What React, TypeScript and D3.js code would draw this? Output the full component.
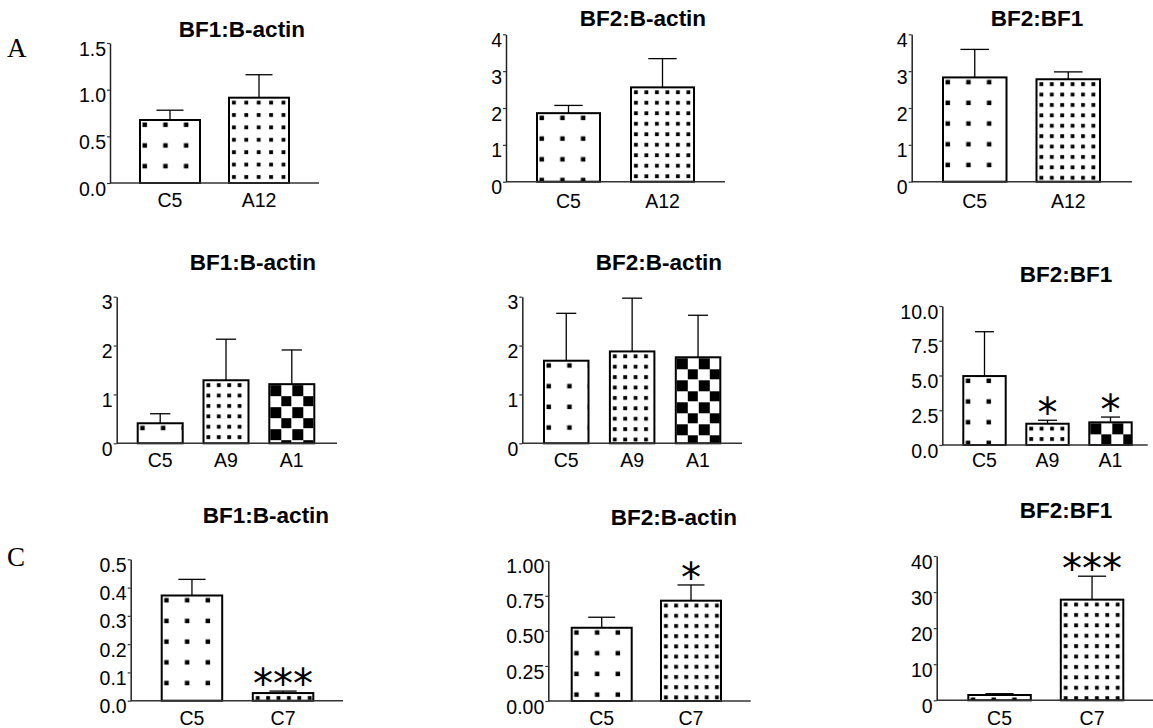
import React, { useEffect, useRef } from 'react';
import * as d3 from 'd3';

// categories
const catsA = ["C5", "A12"];
const catsB = ["C5", "A9", "A1"];
const catsC = ["C5", "C7"];

const titles = ["BF1:B-actin", "BF2:B-actin", "BF2:BF1"];

// means and upper error values
const a1Means = [0.675, 0.914];
const a1Upper = [0.78, 1.16];
const a2Means = [1.86, 2.56];
const a2Upper = [2.07, 3.34];
const a3Means = [2.83, 2.78];
const a3Upper = [3.59, 2.98];

const b1Means = [0.41, 1.29, 1.21];
const b1Upper = [0.605, 2.13, 1.91];
const b2Means = [1.69, 1.88, 1.76];
const b2Upper = [2.66, 2.97, 2.62];
const b3Means = [4.96, 1.53, 1.63];
const b3Upper = [8.15, 1.78, 2.01];
const b3Sig = ["", "*", "*"];

const c1Means = [0.372, 0.027];
const c1Upper = [0.429, 0.034];
const c1Sig = ["", "***"];
const c2Means = [0.522, 0.715];
const c2Upper = [0.597, 0.827];
const c2Sig = ["", "*"];
const c3Means = [1.47, 27.9];
const c3Upper = [1.83, 34.4];
const c3Sig = ["", "***"];

// y ticks
const ticksA1 = [0, 0.5, 1.0, 1.5];
const ticks4 = [0, 1, 2, 3, 4];
const ticks3 = [0, 1, 2, 3];
const ticksB3 = [0, 2.5, 5.0, 7.5, 10.0];
const ticksC1 = [0, 0.1, 0.2, 0.3, 0.4, 0.5];
const ticksC2 = [0, 0.25, 0.5, 0.75, 1.0];
const ticksC3 = [0, 10, 20, 30, 40];

const panels = [
  { cats: catsA, means: a1Means, upper: a1Upper, sig: null, title: titles[0], max: 1.5, ticks: ticksA1, fmt: ".1f" },
  { cats: catsA, means: a2Means, upper: a2Upper, sig: null, title: titles[1], max: 4, ticks: ticks4, fmt: "d" },
  { cats: catsA, means: a3Means, upper: a3Upper, sig: null, title: titles[2], max: 4, ticks: ticks4, fmt: "d" },
  { cats: catsB, means: b1Means, upper: b1Upper, sig: null, title: titles[0], max: 3, ticks: ticks3, fmt: "d" },
  { cats: catsB, means: b2Means, upper: b2Upper, sig: null, title: titles[1], max: 3, ticks: ticks3, fmt: "d" },
  { cats: catsB, means: b3Means, upper: b3Upper, sig: b3Sig, title: titles[2], max: 10, ticks: ticksB3, fmt: ".1f" },
  { cats: catsC, means: c1Means, upper: c1Upper, sig: c1Sig, title: titles[0], max: 0.5, ticks: ticksC1, fmt: ".1f" },
  { cats: catsC, means: c2Means, upper: c2Upper, sig: c2Sig, title: titles[1], max: 1, ticks: ticksC2, fmt: ".2f" },
  { cats: catsC, means: c3Means, upper: c3Upper, sig: c3Sig, title: titles[2], max: 40, ticks: ticksC3, fmt: "d" },
];

// where each panel sits on the page
const layouts = [
  { axisX: 110, y0: 183, yTop: 43, l: 140, r: 289, bw: 60, end: 319, tx: 242, ty: 36.7, ly: 207, dense: 12.4, soft: true },
  { axisX: 506, y0: 181.7, yTop: 34.3, l: 537, r: 694, bw: 63, end: 725, tx: 643, ty: 26, ly: 208, dense: 10.5, soft: false },
  { axisX: 911.7, y0: 181.7, yTop: 34.3, l: 943, r: 1100, bw: 63.5, end: 1132, tx: 1037, ty: 26, ly: 208, dense: 10.4, soft: true },
  { axisX: 116.7, y0: 443.3, yTop: 296.7, l: 137.7, r: 314.3, bw: 45, end: 337, tx: 253, ty: 270, ly: 467, dense: 10.4, soft: true },
  { axisX: 522.3, y0: 443.3, yTop: 296.7, l: 544, r: 720.3, bw: 44.5, end: 742, tx: 659, ty: 270, ly: 467, dense: 10.4, soft: false },
  { axisX: 942.3, y0: 445, yTop: 306, l: 963.3, r: 1131.7, bw: 42.4, end: 1147.7, tx: 1066, ty: 281.7, ly: 467, dense: 10.4, soft: true },
  { axisX: 130.7, y0: 700.7, yTop: 559.3, l: 161.7, r: 313.3, bw: 60.5, end: 343, tx: 266, ty: 523, ly: 725, dense: 10.4, soft: false },
  { axisX: 548.3, y0: 701, yTop: 560.7, l: 571.7, r: 721, bw: 60, end: 750.7, tx: 674, ty: 525, ly: 725, dense: 10.2, soft: false },
  { axisX: 936.7, y0: 700.3, yTop: 556, l: 968.3, r: 1123.3, bw: 62.5, end: 1153, tx: 1066, ty: 518, ly: 725, dense: 10.4, soft: false },
];

const fontSans = "'Liberation Sans', Arial, sans-serif";
const fontSerif = "'Liberation Serif', 'Times New Roman', serif";

const fillKind = (cat) => (cat === "C5" ? "sparse" : cat === "A1" ? "checker" : "dense");

const App = () => {
  const ref = useRef(null);

  useEffect(() => {
    const svg = d3.select(ref.current);
    svg.selectAll("*").remove();
    const defs = svg.append("defs");

    defs.append("filter").attr("id", "soft")
      .attr("x", "-50%").attr("y", "-50%").attr("width", "200%").attr("height", "200%")
      .append("feGaussianBlur").attr("stdDeviation", 0.7);

    svg.append("rect").attr("width", 1153).attr("height", 728).attr("fill", "white");

    panels.forEach((p, pi) => {
      const lay = layouts[pi];
      const n = p.cats.length;
      const step = (lay.r - lay.l - lay.bw) / (n - 1);

      const x = d3.scaleBand()
        .domain(p.cats)
        .range([lay.l, lay.r])
        .paddingInner(1 - lay.bw / step)
        .paddingOuter(0);

      const y = d3.scaleLinear()
        .domain([0, p.max])
        .range([lay.y0, lay.yTop]);

      const g = svg.append("g");

      // patterns, one per bar so they start at the bar's corner
      p.cats.forEach((c, i) => {
        const bx = x(c);
        const by = y(p.means[i]);
        const kind = fillKind(c);
        const id = `pat${pi}_${i}`;
        if (kind === "checker") {
          const cell = 11;
          const pat = defs.append("pattern").attr("id", id)
            .attr("patternUnits", "userSpaceOnUse")
            .attr("x", bx).attr("y", by)
            .attr("width", cell * 2).attr("height", cell * 2);
          pat.append("rect").attr("width", cell * 2).attr("height", cell * 2).attr("fill", "white");
          pat.append("rect").attr("x", 1).attr("y", 1).attr("width", cell).attr("height", cell).attr("fill", "black");
          pat.append("rect").attr("x", cell + 1).attr("y", cell + 1).attr("width", cell).attr("height", cell).attr("fill", "black");
        } else {
          const period = kind === "sparse" ? 20.7 : lay.dense;
          const dot = kind === "sparse" ? 4.5 : 3.8;
          const off = kind === "sparse" ? 2.5 : 3;
          const pat = defs.append("pattern").attr("id", id)
            .attr("patternUnits", "userSpaceOnUse")
            .attr("x", bx).attr("y", by)
            .attr("width", period).attr("height", period);
          pat.append("rect").attr("width", period).attr("height", period).attr("fill", "white");
          const dr = pat.append("rect").attr("x", off).attr("y", off).attr("width", dot).attr("height", dot).attr("fill", "black");
          if (kind === "dense" && lay.soft) dr.attr("filter", "url(#soft)");
        }
      });

      // bars
      g.selectAll(".bar")
        .data(p.cats)
        .enter().append("rect")
        .attr("x", d => x(d))
        .attr("y", (d, i) => y(p.means[i]))
        .attr("width", x.bandwidth())
        .attr("height", (d, i) => lay.y0 - y(p.means[i]))
        .attr("fill", (d, i) => `url(#pat${pi}_${i})`)
        .attr("stroke", "black")
        .attr("stroke-width", 2);

      // error bars (upper only)
      const cap = x.bandwidth() * 0.45;
      p.cats.forEach((c, i) => {
        const cx = x(c) + x.bandwidth() / 2;
        g.append("line")
          .attr("x1", cx).attr("x2", cx)
          .attr("y1", y(p.means[i])).attr("y2", y(p.upper[i]))
          .attr("stroke", "black").attr("stroke-width", 1.3);
        g.append("line")
          .attr("x1", cx - cap / 2).attr("x2", cx + cap / 2)
          .attr("y1", y(p.upper[i])).attr("y2", y(p.upper[i]))
          .attr("stroke", "black").attr("stroke-width", 1.3);
      });

      // significance marks
      if (p.sig) {
        g.selectAll(".sig")
          .data(p.sig)
          .enter().append("text")
          .attr("x", (d, i) => x(p.cats[i]) + x.bandwidth() / 2)
          .attr("y", (d, i) => y(p.upper[i]) - 16 + 23)
          .attr("text-anchor", "middle")
          .attr("font-family", "'DejaVu Sans', sans-serif")
          .attr("font-size", 40)
          .attr("fill", "black")
          .text(d => d);
      }

      // baseline
      g.append("line")
        .attr("x1", lay.axisX).attr("x2", lay.end)
        .attr("y1", lay.y0).attr("y2", lay.y0)
        .attr("stroke", "#333").attr("stroke-width", 1.5);

      // y axis
      const axis = g.append("g")
        .attr("transform", `translate(${lay.axisX},0)`)
        .call(d3.axisLeft(y).tickValues(p.ticks).tickFormat(d3.format(p.fmt)).tickSize(3).tickSizeOuter(0).tickPadding(1));
      axis.select(".domain").attr("stroke", "#222").attr("stroke-width", 1.5);
      axis.selectAll(".tick line").attr("stroke", "#333").attr("stroke-width", 1.2);
      axis.selectAll(".tick text")
        .attr("font-family", fontSans)
        .attr("font-size", 19.5)
        .attr("fill", "black")
        .attr("dy", "0.62em");

      // category labels
      g.selectAll(".cat")
        .data(p.cats)
        .enter().append("text")
        .attr("x", d => x(d) + x.bandwidth() / 2)
        .attr("y", lay.ly)
        .attr("text-anchor", "middle")
        .attr("font-family", fontSans)
        .attr("font-size", 19.5)
        .attr("fill", "black")
        .text(d => d);

      // title
      g.append("text")
        .attr("x", lay.tx)
        .attr("y", lay.ty)
        .attr("text-anchor", "middle")
        .attr("font-family", fontSans)
        .attr("font-weight", "bold")
        .attr("font-size", 22.5)
        .attr("fill", "black")
        .text(p.title);
    });

    // panel letters
    svg.append("text").attr("x", 7).attr("y", 57)
      .attr("font-family", fontSerif)
      .attr("font-size", 27).attr("fill", "black").text("A");
    svg.append("text").attr("x", 7).attr("y", 566)
      .attr("font-family", fontSerif)
      .attr("font-size", 27).attr("fill", "black").text("C");
  }, []);

  return (
    <svg ref={ref} width={1153} height={728}
      style={{ position: 'absolute', left: 0, top: 0, display: 'block' }} />
  );
};

export default App;
